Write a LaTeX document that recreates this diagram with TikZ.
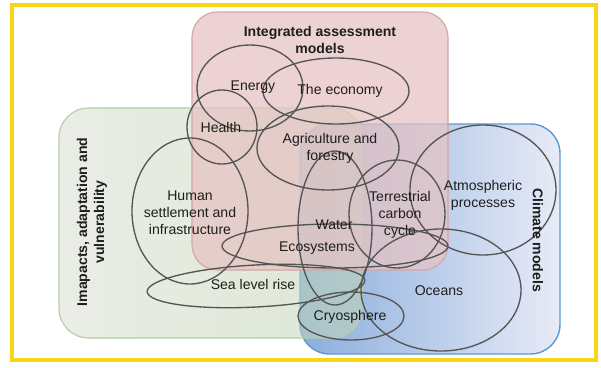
\documentclass[tikz,border=0pt]{standalone}
\usepackage{fontspec}
\setmainfont{Liberation Sans}
\usetikzlibrary{positioning}

\definecolor{frameyellow}{HTML}{F8D515}
\definecolor{ringgray}{HTML}{555555}
\definecolor{textdark}{HTML}{1E1E1E}
\definecolor{iamfill}{HTML}{E6C4C4}
\definecolor{iamedge}{HTML}{D4A5A5}
\definecolor{iavleft}{HTML}{D9DFD2}
\definecolor{iavright}{HTML}{C2D5B3}
\definecolor{iavedge}{HTML}{B5CFA0}
\definecolor{cmleft}{HTML}{8BAEDD}
\definecolor{cmright}{HTML}{E8EBF7}
\definecolor{cmedge}{HTML}{5B9BD5}

\begin{document}
\begin{tikzpicture}[x=0.025cm, y=-0.025cm, font=\fontsize{10}{12}\selectfont,
	ring/.style={draw=ringgray, line width=0.95pt},
	lbl/.style={align=center, text=textdark, inner sep=0pt},
	boxtitle/.style={align=center, text=textdark, inner sep=0pt, font=\fontsize{10}{12}\selectfont\bfseries}]
		\useasboundingbox (0,0) rectangle (601,368);
		\fill[white] (0,0) rectangle (601,368);
		\draw[frameyellow, line width=2.8pt] (12,5) rectangle (596,360);

		\shadedraw[left color=cmleft, right color=cmright, draw=cmedge, line width=1pt, rounded corners=21pt] (300,124) rectangle (560,354);
		\shadedraw[left color=iavleft, right color=iavright, fill opacity=0.55, draw=iavedge, line width=0.8pt, rounded corners=21pt] (59,108) rectangle (362,338);
		\filldraw[fill=iamfill, fill opacity=0.75, draw=iamedge, line width=0.8pt, rounded corners=18pt] (192,12) rectangle (448,270);

		\draw[ring] (250,88) ellipse [x radius=53, y radius=43];
		\draw[ring] (336,91) ellipse [x radius=73, y radius=33];
		\draw[ring] (222,127) ellipse [x radius=35, y radius=37];
		\draw[ring] (328,148) ellipse [x radius=71, y radius=42];
		\draw[ring] (190,211) ellipse [x radius=58, y radius=73];
		\draw[ring] (335,228) ellipse [x radius=37, y radius=77];
		\draw[ring] (335,246) ellipse [x radius=113, y radius=22];
		\draw[ring] (397,214) ellipse [x radius=48, y radius=54];
		\draw[ring] (483,190) ellipse [x radius=73, y radius=65];
		\draw[ring] (441,290) ellipse [x radius=80, y radius=61];
		\draw[ring] (351,316) ellipse [x radius=53, y radius=24];
		\draw[ring, rotate around={3:(256,286)}] (256,286) ellipse [x radius=109, y radius=21];

		\node[boxtitle] (iamtitle) at (320,40) {Integrated assessment\\models};
		\node[boxtitle, rotate=90] (iavtitle) at (92,222) {Imapacts, adaptation and\\vulnerability};
		\node[boxtitle, rotate=-90] (cmtitle) at (538,240) {Climate models};

		\node[lbl] (energy) at (253,87) {Energy};
		\node[lbl] (economy) at (340,91) {The economy};
		\node[lbl] (health) at (221,127) {Health};
		\node[lbl] (agri) at (330,148) {Agriculture and\\forestry};
		\node[lbl] (human) at (190,213) {Human\\settlement and\\infrastructure};
		\node[lbl] (water) at (334,225) {Water};
		\node[lbl] (eco) at (317,248) {Ecosystems};
		\node[lbl] (tcc) at (400,215) {Terrestrial\\carbon\\cycle};
		\node[lbl] (atmo) at (483,195) {Atmospheric\\processes};
		\node[lbl] (oceans) at (439,291) {Oceans};
		\node[lbl] (cryo) at (350,317) {Cryosphere};
		\node[lbl] (slr) at (253,284) {Sea level rise};
	\end{tikzpicture}
\end{document}
